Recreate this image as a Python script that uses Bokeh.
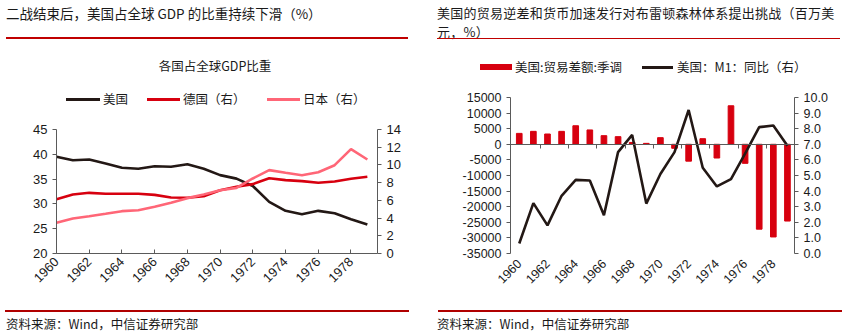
import math
from bokeh.plotting import figure
from bokeh.models import (Range1d, LinearAxis, FixedTicker, NumeralTickFormatter, Div)
from bokeh.layouts import row, column
from bokeh.embed import file_html
from bokeh.resources import INLINE

# ---------------- data ----------------
years = list(range(1960, 1980))
us_share = [39.5, 38.8, 38.95, 38.15, 37.3, 37.1, 37.6, 37.5, 38.0, 37.1,
            35.8, 35.1, 33.6, 30.4, 28.6, 27.9, 28.6, 28.1, 26.9, 25.85]
de_share = [6.13, 6.66, 6.85, 6.74, 6.74, 6.74, 6.62, 6.32, 6.29, 6.47,
            7.15, 7.53, 7.83, 8.5, 8.28, 8.17, 7.98, 8.13, 8.43, 8.66]
jp_share = [3.46, 3.95, 4.2, 4.48, 4.78, 4.89, 5.27, 5.72, 6.25, 6.66,
            7.15, 7.41, 8.47, 9.41, 9.11, 8.84, 9.18, 9.97, 11.78, 10.61]
trade_bal = [3500, 4150, 3300, 4150, 5950, 4600, 2770, 2450, 600, 300,
             2130, -1280, -5400, 1800, -4400, 12350, -6100, -27200, -29700, -24600]
m1_yoy = [0.64, 3.23, 1.8, 3.7, 4.72, 4.68, 2.45, 6.5, 7.6, 3.2,
          5.1, 6.5, 9.2, 5.5, 4.3, 4.77, 6.4, 8.1, 8.2, 6.9]
year_ticks = list(range(1960, 1980, 2))

title_left = "二战结束后，美国占全球 GDP 的比重持续下滑（%）"
subtitle_left = "各国占全球GDP比重"
legend_left = ["美国", "德国（右）", "日本（右）"]
title_right = ["美国的贸易逆差和货币加速发行对布雷顿森林体系提出挑战（百万美", "元，%）"]
legend_right = ["美国:贸易差额:季调", "美国：M1：同比（右）"]
source_text = "资料来源：Wind，中信证券研究部"

CJK = "'Noto Sans CJK SC'"
NUM = "Liberation Sans"
BLACK = "#231815"
RED = "#d7000f"
PINK = "#ff6677"
LINE_RED = "#c00000"
FOOT_RED = "#b00000"
AX = "#5a5a5a"
TXT = "#1a1a1a"

H = 334
WL = 422
WR = 845 - WL
HDR_L, HDR_R, FTR = 115, 85, 30


def txt(x, y_center, s, size=12.5, lh=16, align="left", width=None, ls=0):
    top = y_center - lh / 2
    w = f"width:{width}px;" if width else ""
    return (f'<div style="position:absolute;left:{x}px;top:{top}px;{w}font-family:{CJK};'
            f'font-size:{size}px;line-height:{lh}px;color:{TXT};white-space:nowrap;'
            f'letter-spacing:{ls}px;text-align:{align};">{s}</div>')


def bar(x0, x1, yc, h, color):
    return (f'<div style="position:absolute;left:{x0}px;top:{yc - h / 2}px;width:{x1 - x0}px;'
            f'height:{h}px;background:{color};"></div>')


def box(inner, w, h):
    return f'<div style="position:relative;width:{w}px;height:{h}px;overflow:visible;">{inner}</div>'


def mkdiv(inner, w, h):
    return Div(text=box(inner, w, h), width=w, height=h, margin=(0, 0, 0, 0))


def style_axis(ax, fs="13px"):
    ax.axis_line_color = AX
    ax.major_tick_line_color = AX
    ax.minor_tick_line_color = None
    ax.major_tick_out = 4
    ax.major_tick_in = 0
    ax.major_label_text_font = NUM
    ax.major_label_text_font_size = fs
    ax.major_label_text_color = TXT
    ax.major_label_standoff = 5


# ---------------- left panel ----------------
hdrL = mkdiv(
    txt(6, 13, title_left, size=13.5, lh=18)
    + bar(6, 408, 38, 1.5, LINE_RED)
    + txt(115, 66, subtitle_left, size=12.5, align="center", width=200)
    + bar(66, 100, 99, 3, BLACK) + txt(103, 99, legend_left[0])
    + bar(147, 180, 99, 3, RED) + txt(183, 99, legend_left[1])
    + bar(267, 300, 99, 3, PINK) + txt(303, 99, legend_left[2]),
    WL, HDR_L)

figH_L = H - HDR_L - FTR
fl_L, fr_L, ft_L, fb_L = 56, 377, 129 - HDR_L, 253 - HDR_L
p1 = figure(width=WL, height=figH_L, output_backend="svg", toolbar_location=None,
            x_range=Range1d(1960, 1979.62), y_range=Range1d(20, 45),
            min_border_left=fl_L, min_border_right=WL - fr_L,
            min_border_top=ft_L, min_border_bottom=figH_L - fb_L, margin=(0, 0, 0, 0))
p1.outline_line_color = None
p1.grid.grid_line_color = None
p1.extra_y_ranges = {"r": Range1d(0, 14)}
p1.yaxis.ticker = FixedTicker(ticks=[20, 25, 30, 35, 40, 45])
style_axis(p1.yaxis[0])
rax = LinearAxis(y_range_name="r", ticker=FixedTicker(ticks=list(range(0, 15, 2))))
style_axis(rax)
p1.add_layout(rax, "right")
p1.xaxis.ticker = FixedTicker(ticks=year_ticks)
style_axis(p1.xaxis[0])
p1.xaxis.major_tick_in = 4
p1.xaxis.major_tick_out = 0
p1.xaxis.major_label_orientation = math.pi / 4
p1.xaxis.major_label_standoff = 6

p1.line(years, us_share, color=BLACK, line_width=2.6)
p1.line(years, de_share, color=RED, line_width=2.6, y_range_name="r")
p1.line(years, jp_share, color=PINK, line_width=2.6, y_range_name="r")

ftrL = mkdiv(bar(5, 409, 7, 1.5, FOOT_RED) + txt(6, 20, source_text, size=12.5), WL, FTR)

# ---------------- right panel ----------------
hdrR = mkdiv(
    txt(15, 12.8, title_right[0], size=13, lh=19, ls=0.25)
    + txt(15, 31.8, title_right[1], size=13, lh=19, ls=0.25)
    + bar(15, 418, 38.5, 1.5, LINE_RED)
    + bar(58, 90, 67, 6, RED) + txt(93, 67, legend_right[0])
    + bar(220, 251, 67, 3, BLACK) + txt(255, 67, legend_right[1]),
    WR, HDR_R)

figH_R = H - HDR_R - FTR
fl_R, fr_R, ft_R, fb_R = 510 - WL, 794 - WL, 97 - HDR_R, 253 - HDR_R
p2 = figure(width=WR, height=figH_R, output_backend="svg", toolbar_location=None,
            x_range=Range1d(-0.62, 19.5), y_range=Range1d(-35000, 15000),
            min_border_left=fl_R, min_border_right=WR - fr_R,
            min_border_top=ft_R, min_border_bottom=figH_R - fb_R, margin=(0, 0, 0, 0))
p2.outline_line_color = None
p2.grid.grid_line_color = None
p2.extra_y_ranges = {"r": Range1d(0, 10)}
p2.yaxis.ticker = FixedTicker(ticks=list(range(-35000, 15001, 5000)))
p2.yaxis.formatter = NumeralTickFormatter(format="0")
style_axis(p2.yaxis[0], fs="12.5px")
rax2 = LinearAxis(y_range_name="r", ticker=FixedTicker(ticks=list(range(0, 11))),
                  formatter=NumeralTickFormatter(format="0.0"))
style_axis(rax2, fs="12.5px")
p2.add_layout(rax2, "right")
idx = list(range(len(years)))
p2.xaxis.ticker = FixedTicker(ticks=[i for i in idx if years[i] in year_ticks])
p2.xaxis.major_label_overrides = {i: str(years[i]) for i in idx}
style_axis(p2.xaxis[0], fs="12.5px")
p2.xaxis.axis_line_color = None
p2.xaxis.major_tick_line_color = None
p2.xaxis.major_label_orientation = math.pi / 4
p2.xaxis.major_label_standoff = 4

# category axis crossing at zero (Excel style), with boundary ticks, no labels
zticks = [i + 1.5 for i in range(0, 19, 2)]
zax = LinearAxis(fixed_location=0, ticker=FixedTicker(ticks=zticks))
style_axis(zax)
zax.major_label_overrides = {t: "" for t in zticks}
zax.major_label_standoff = 0
zax.major_tick_out = 4
p2.add_layout(zax, "below")

p2.vbar(x=idx, top=trade_bal, bottom=0, width=0.4, color=RED)
p2.line(idx, m1_yoy, color=BLACK, line_width=2.6, y_range_name="r")

ftrR = mkdiv(bar(16, 420, 7, 1.5, FOOT_RED) + txt(15, 20, source_text, size=12.5), WR, FTR)

layout = row(column(hdrL, p1, ftrL, spacing=0), column(hdrR, p2, ftrR, spacing=0), spacing=0)
open("out.html", "w").write(file_html(layout, INLINE))
